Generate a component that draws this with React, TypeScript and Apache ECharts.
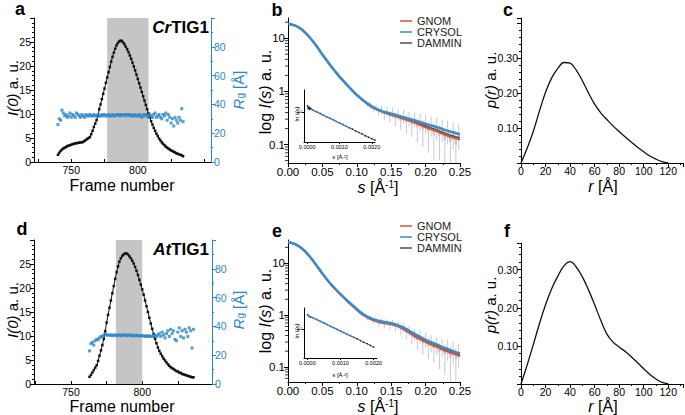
import React, { useEffect, useRef } from "react";
import * as echarts from "echarts";

const FONT = '"Liberation Sans", Arial, Helvetica, sans-serif';

// ---------- Panel a (CrTIG1): frames, I(0), Rg ----------
const A_FIRST_FRAME = 740;
const A_I0 = [
  1.5, 1.9, 2.3, 2.6, 2.8, 3.0, 3.1, 3.3, 3.4, 3.5,
  3.6, 3.7, 3.8, 3.9, 3.9, 4.0, 4.0, 4.1, 4.1, 4.2,
  4.4, 4.6, 4.8, 5.0, 5.2, 5.8, 6.5, 7.3, 8.0, 8.7,
  9.6, 11.0, 12.0, 13.1, 14.2, 15.3, 16.5, 17.6, 18.7, 19.8,
  20.9, 21.9, 22.8, 23.6, 24.3, 24.8, 25.1, 25.3, 25.2, 24.9,
  24.5, 24.0, 23.5, 22.9, 22.2, 21.5, 20.7, 19.9, 19.1, 18.2,
  17.3, 16.4, 15.5, 14.6, 13.7, 12.8, 11.9, 11.0, 10.1, 9.3,
  8.5, 7.8, 7.1, 6.5, 5.9, 5.4, 4.9, 4.5, 4.1, 3.8,
  3.5, 3.2, 3.0, 2.8, 2.6, 2.4, 2.3, 2.1, 2.0, 1.8,
  1.7, 1.6, 1.5, 1.4, 1.2,
];
const A_RG = [
  26, 30, 29, 36, 34, 32, 33, 31, 32, 34,
  31, 33, 32, 31, 34, 33, 32, 31, 33, 32,
  31, 33, 32, 32, 33, 32, 32, 33, 32, 32,
  33, 32, 32, 33, 32, 33, 32, 32, 33, 32,
  32, 33, 32, 32, 33, 33, 32, 33, 32, 33,
  33, 32, 33, 33, 32, 33, 32, 32, 33, 32,
  32, 33, 32, 31, 33, 32, 33, 32, 31, 33,
  32, 31, 33, 34, 31, 32, 33, 31, 30, 33,
  32, 34, 29, 33, 31, 27, 30, 25, 31, 29,
  27, 31, 29, 37, 28,
];
const A_BAND = [777, 808];

// ---------- Panel d (AtTIG1) ----------
const D_FIRST_FRAME = 763;
const D_I0 = [
  1.5, 1.9, 2.4, 2.9, 3.4, 3.9, 4.8, 5.9, 7.0, 8.1,
  9.4, 11.0, 12.8, 14.4, 15.9, 17.4, 18.9, 20.4, 21.9, 23.3,
  24.5, 25.5, 26.2, 26.7, 27.0, 27.2, 27.2, 27.0, 26.6, 26.2,
  25.7, 25.1, 24.4, 23.6, 22.7, 21.7, 20.7, 19.7, 18.6, 17.4,
  16.2, 15.0, 13.8, 12.6, 11.5, 10.4, 9.4, 8.5, 7.6, 6.9,
  6.3, 5.8, 5.3, 4.9, 4.5, 4.1, 3.8, 3.5, 3.3, 3.1,
  2.9, 2.7, 2.6, 2.4, 2.3, 2.1, 2.0, 1.9, 1.8, 1.7,
  1.6, 1.5, 1.4, 1.4,
];
const D_RG = [
  23, 28, 29, 27, 30, 31, 31, 32, 33, 33,
  34, 35, 34, 34, 34, 34, 33.5, 34, 34, 33.5,
  34, 34, 33.5, 34, 34, 34, 33.5, 34, 34, 33.5,
  34, 33.5, 33.5, 34, 33.5, 33.5, 33.5, 33.5, 33.5, 33,
  33.5, 33, 33.5, 33, 33, 33.5, 34, 33, 34, 35,
  33, 36, 34, 32, 35, 37, 33, 38, 35, 37,
  31, 30, 36, 39, 33, 37, 32, 38, 36, 33,
  39, 37, 25, 38,
];
const D_BAND = [781.5, 800];

const FRAME_LABELS = [750, 800];
const FRAME_TICKS = [725, 750, 775, 800, 825, 850];

// ---------- Panels b / e : scattering curves ----------
const S_FIT = [0, 0.01, 0.02, 0.03, 0.04, 0.05, 0.06, 0.07, 0.08, 0.09, 0.1, 0.11, 0.12, 0.13, 0.14, 0.15, 0.16, 0.17, 0.18, 0.19, 0.2, 0.21, 0.22, 0.23, 0.24, 0.25];
const B_GNOM = [18.5, 17.3, 14.5, 10.8, 7.5, 4.9, 3.3, 2.25, 1.6, 1.15, 0.85, 0.66, 0.53, 0.45, 0.4, 0.36, 0.33, 0.3, 0.27, 0.24, 0.21, 0.19, 0.17, 0.15, 0.135, 0.125];
const B_CRYSOL = [18.6, 17.4, 14.6, 10.9, 7.6, 4.95, 3.3, 2.25, 1.6, 1.16, 0.86, 0.67, 0.54, 0.46, 0.41, 0.38, 0.35, 0.32, 0.295, 0.27, 0.245, 0.225, 0.205, 0.185, 0.17, 0.155];
const B_DAMMIN = [18.5, 17.3, 14.5, 10.8, 7.5, 4.9, 3.3, 2.25, 1.6, 1.15, 0.85, 0.66, 0.53, 0.455, 0.405, 0.37, 0.34, 0.31, 0.28, 0.25, 0.225, 0.2, 0.18, 0.16, 0.145, 0.135];
const E_GNOM = [25, 23, 19, 14, 9.5, 6.2, 4.2, 3.0, 2.2, 1.65, 1.25, 0.98, 0.83, 0.74, 0.69, 0.66, 0.6, 0.51, 0.42, 0.35, 0.3, 0.26, 0.23, 0.2, 0.18, 0.16];
const E_CRYSOL = [25.2, 23.2, 19.2, 14.1, 9.6, 6.3, 4.25, 3.05, 2.25, 1.7, 1.3, 1.02, 0.87, 0.78, 0.73, 0.69, 0.63, 0.55, 0.46, 0.39, 0.33, 0.29, 0.255, 0.225, 0.2, 0.18];
const E_DAMMIN = [25, 23, 19, 14, 9.5, 6.2, 4.2, 3.0, 2.2, 1.65, 1.26, 0.99, 0.84, 0.75, 0.7, 0.67, 0.61, 0.52, 0.43, 0.36, 0.31, 0.27, 0.24, 0.21, 0.19, 0.17];

// experimental points: [s, I, error]
const B_EXP = [
  [0.004, 18.9, 1.2], [0.008, 17.4, 0.8], [0.012, 16.9, 0.6], [0.016, 15.9, 0.5], [0.02, 14.6, 0.4],
  [0.024, 13.0, 0.35], [0.028, 11.6, 0.3], [0.032, 10.0, 0.25], [0.036, 8.7, 0.2], [0.04, 7.5, 0.18],
  [0.044, 6.4, 0.15], [0.048, 5.4, 0.13], [0.052, 4.6, 0.11], [0.056, 3.9, 0.1], [0.06, 3.3, 0.09],
  [0.064, 2.8, 0.08], [0.068, 2.42, 0.07], [0.072, 2.1, 0.07], [0.076, 1.82, 0.06], [0.08, 1.6, 0.06],
  [0.084, 1.42, 0.06], [0.088, 1.24, 0.06], [0.092, 1.1, 0.06], [0.096, 0.97, 0.06], [0.1, 0.86, 0.06],
  [0.104, 0.78, 0.06], [0.108, 0.69, 0.06], [0.112, 0.64, 0.06], [0.116, 0.57, 0.06], [0.12, 0.55, 0.07],
  [0.124, 0.47, 0.07], [0.128, 0.49, 0.07], [0.132, 0.42, 0.07], [0.136, 0.45, 0.08], [0.14, 0.37, 0.08],
  [0.144, 0.43, 0.08], [0.148, 0.34, 0.08], [0.152, 0.4, 0.09], [0.156, 0.31, 0.09], [0.16, 0.37, 0.09],
  [0.164, 0.28, 0.09], [0.168, 0.35, 0.1], [0.172, 0.26, 0.1], [0.176, 0.32, 0.1], [0.18, 0.24, 0.1],
  [0.184, 0.31, 0.1], [0.188, 0.21, 0.1], [0.192, 0.28, 0.1], [0.196, 0.19, 0.1], [0.2, 0.26, 0.1],
  [0.204, 0.17, 0.1], [0.208, 0.24, 0.1], [0.212, 0.15, 0.1], [0.216, 0.22, 0.1], [0.22, 0.14, 0.09],
  [0.224, 0.2, 0.09], [0.228, 0.12, 0.09], [0.232, 0.19, 0.09], [0.236, 0.11, 0.08], [0.24, 0.17, 0.09],
  [0.244, 0.1, 0.07], [0.248, 0.16, 0.08],
];
const E_EXP = [
  [0.004, 25.5, 1.5], [0.008, 24.0, 1.0], [0.012, 22.4, 0.8], [0.016, 20.8, 0.6], [0.02, 19.0, 0.5],
  [0.024, 17.0, 0.45], [0.028, 15.0, 0.4], [0.032, 13.0, 0.35], [0.036, 11.2, 0.3], [0.04, 9.5, 0.25],
  [0.044, 8.1, 0.2], [0.048, 6.8, 0.18], [0.052, 5.8, 0.15], [0.056, 4.9, 0.13], [0.06, 4.2, 0.12],
  [0.064, 3.7, 0.1], [0.068, 3.2, 0.09], [0.072, 2.8, 0.08], [0.076, 2.45, 0.08], [0.08, 2.2, 0.07],
  [0.084, 1.95, 0.07], [0.088, 1.72, 0.07], [0.092, 1.55, 0.07], [0.096, 1.4, 0.07], [0.1, 1.25, 0.07],
  [0.104, 1.14, 0.07], [0.108, 1.02, 0.07], [0.112, 0.96, 0.07], [0.116, 0.86, 0.08], [0.12, 0.85, 0.08],
  [0.124, 0.76, 0.08], [0.128, 0.79, 0.08], [0.132, 0.7, 0.09], [0.136, 0.76, 0.09], [0.14, 0.65, 0.09],
  [0.144, 0.72, 0.1], [0.148, 0.62, 0.1], [0.152, 0.7, 0.1], [0.156, 0.58, 0.1], [0.16, 0.64, 0.11],
  [0.164, 0.52, 0.11], [0.168, 0.58, 0.11], [0.172, 0.45, 0.11], [0.176, 0.5, 0.11], [0.18, 0.38, 0.11],
  [0.184, 0.43, 0.11], [0.188, 0.32, 0.11], [0.192, 0.39, 0.11], [0.196, 0.28, 0.11], [0.2, 0.34, 0.11],
  [0.204, 0.25, 0.11], [0.208, 0.3, 0.11], [0.212, 0.22, 0.1], [0.216, 0.27, 0.1], [0.22, 0.19, 0.1],
  [0.224, 0.25, 0.1], [0.228, 0.17, 0.1], [0.232, 0.23, 0.1], [0.236, 0.15, 0.1], [0.24, 0.21, 0.1],
  [0.244, 0.14, 0.09], [0.248, 0.19, 0.09],
];
const LOG_MINOR = [0.05, 0.06, 0.07, 0.08, 0.09, 0.2, 0.3, 0.4, 0.5, 0.6, 0.7, 0.8, 0.9, 2, 3, 4, 5, 6, 7, 8, 9, 20];
const LEGEND_NAMES = ["GNOM", "CRYSOL", "DAMMIN"];

// ---------- Guinier insets: [s^2, ln I] ----------
const B_GUINIER = [
  [0.00001, 1.22], [0.00003, 1.12], [0.00005, 1.18], [0.00007, 1.1], [0.00009, 1.15], [0.00012, 1.11],
  [0.00015, 1.09], [0.0002, 1.06], [0.0003, 1.01], [0.0004, 0.96], [0.0005, 0.9], [0.0006, 0.85],
  [0.0007, 0.8], [0.0008, 0.75], [0.0009, 0.69], [0.001, 0.64], [0.0011, 0.59], [0.0012, 0.53],
  [0.0013, 0.48], [0.0014, 0.43], [0.0015, 0.37], [0.0016, 0.32], [0.0017, 0.27], [0.0018, 0.21],
  [0.0019, 0.16], [0.002, 0.11], [0.0021, 0.06],
];
const B_GUINIER_FIT = [[0.0001, 1.11], [0.0013, 0.48]];
const E_GUINIER = [
  [0.00001, 1.52], [0.00004, 1.47], [0.00007, 1.45], [0.0001, 1.43], [0.0002, 1.39], [0.0003, 1.34],
  [0.0004, 1.28], [0.0005, 1.23], [0.0006, 1.17], [0.0007, 1.11], [0.0008, 1.06], [0.0009, 1.0],
  [0.001, 0.95], [0.0011, 0.89], [0.0012, 0.83], [0.0013, 0.78], [0.0014, 0.72], [0.0015, 0.67],
  [0.0016, 0.61], [0.0017, 0.55], [0.0018, 0.5], [0.0019, 0.44], [0.002, 0.38],
];
const E_GUINIER_FIT = [[0.0, 1.5], [0.0014, 0.72]];
const GUINIER_X_LABELS = [0, 0.001, 0.002];

// ---------- Panels c / f : p(r) ----------
const R_VALUES = [0, 5, 10, 15, 20, 25, 30, 35, 40, 45, 50, 55, 60, 65, 70, 75, 80, 85, 90, 95, 100, 105, 110, 115, 120];
const C_PR = [0, 0.042, 0.09, 0.148, 0.202, 0.243, 0.27, 0.287, 0.285, 0.265, 0.235, 0.2, 0.168, 0.143, 0.124, 0.106, 0.09, 0.074, 0.059, 0.045, 0.032, 0.02, 0.011, 0.004, 0];
const F_PR = [0, 0.05, 0.103, 0.158, 0.208, 0.25, 0.283, 0.31, 0.321, 0.307, 0.281, 0.247, 0.208, 0.167, 0.131, 0.11, 0.097, 0.085, 0.071, 0.056, 0.04, 0.025, 0.013, 0.004, 0];

// colours
const BLACK = "#111111";
const BLUE_PT = "#2a86c8";
const RED = "#d4563a";
const BLUE_LINE = "#3a8cc6";
const DARK = "#4d4d4d";
const GREY_EXP = "#bdbdbd";
const BAND = "#c5c5c5";

function axis(o: any) {
  const color = o.color || "#000";
  const tick: any = { show: true, inside: !!o.tickInside, length: o.tickLen ?? 4, lineStyle: { color, width: 1 } };
  if (o.tickValues) tick.customValues = o.tickValues;
  const label: any = { color, fontSize: o.fs, fontFamily: FONT, margin: o.margin ?? 3 };
  if (o.fmt) label.formatter = o.fmt;
  if (o.showMin === false) label.showMinLabel = false;
  if (o.showMax === false) label.showMaxLabel = false;
  if (o.labelValues) label.customValues = o.labelValues;
  const a: any = {
    type: o.type || "value",
    gridIndex: o.grid,
    min: o.min,
    max: o.max,
    axisLine: { show: true, onZero: false, lineStyle: { color, width: 1 } },
    axisTick: tick,
    minorTick: o.minor ? { show: true, splitNumber: o.minor, length: 2, lineStyle: { color, width: 1 } } : { show: false },
    splitLine: { show: false },
    minorSplitLine: { show: false },
    axisLabel: label,
  };
  if (o.interval !== undefined) a.interval = o.interval;
  if (o.position) a.position = o.position;
  if (o.type === "log") a.logBase = 10;
  return a;
}

function rich(size: number, color = "#000") {
  return {
    n: { fontSize: size, fontFamily: FONT, fill: color },
    i: { fontSize: size, fontFamily: FONT, fontStyle: "italic", fill: color },
    b: { fontSize: size, fontFamily: FONT, fontWeight: "bold", fill: color },
    bi: { fontSize: size, fontFamily: FONT, fontWeight: "bold", fontStyle: "italic", fill: color },
    sub: { fontSize: Math.round(size * 0.65), fontFamily: FONT, fill: color, verticalAlign: "bottom" },
    sup: { fontSize: Math.round(size * 0.62), fontFamily: FONT, fill: color, verticalAlign: "top" },
  };
}

function text(x: number, y: number, t: string, size: number, opts: any = {}) {
  return {
    type: "text",
    x,
    y,
    rotation: opts.rot ? Math.PI / 2 : 0,
    silent: true,
    style: {
      text: t,
      rich: rich(size, opts.color || "#000"),
      fill: opts.color || "#000",
      fontSize: size,
      fontFamily: FONT,
      align: opts.align || "center",
      verticalAlign: "middle",
    },
  };
}

function buildOption() {
  const aFrames = A_I0.map((_, i) => A_FIRST_FRAME + i);
  const dFrames = D_I0.map((_, i) => D_FIRST_FRAME + i);

  const grid = [
    { left: 34, top: 18, width: 177, height: 144 }, // a
    { left: 288, top: 18, width: 172, height: 145 }, // b
    { left: 521, top: 18, width: 162, height: 145 }, // c
    { left: 34, top: 240, width: 178, height: 144 }, // d
    { left: 288, top: 240, width: 172, height: 142 }, // e
    { left: 521, top: 243, width: 162, height: 141 }, // f
    { left: 304, top: 90, width: 71, height: 52 }, // b inset
    { left: 304, top: 308, width: 73, height: 50 }, // e inset
  ];

  const frameX = (g: number, min: number, max: number) =>
    axis({ grid: g, min, max, fs: 10.5, tickValues: FRAME_TICKS, labelValues: FRAME_LABELS, tickInside: true, tickLen: 3, margin: 2 });
  const sX = (g: number) =>
    axis({ grid: g, min: 0, max: 0.25, interval: 0.05, fs: 11.5, minor: 2, fmt: (v: number) => v.toFixed(2), margin: 3 });
  const rX = (g: number) =>
    axis({ grid: g, min: 0, max: 132, interval: 20, fs: 10.5, minor: 2, showMax: false, margin: 2 });
  const gX = (g: number) =>
    axis({ grid: g, min: -0.0001, max: 0.0021, fs: 5.5, tickValues: GUINIER_X_LABELS, labelValues: GUINIER_X_LABELS, fmt: (v: number) => v.toFixed(4), tickLen: 2, margin: 2 });

  const xAxis = [frameX(0, 722, 855), sX(1), rX(2), frameX(3, 724, 849), sX(4), rX(5), gX(6), gX(7)];

  const i0Y = (g: number) => axis({ grid: g, min: 0, max: 30, interval: 5, fs: 10.5, minor: 5, showMax: false });
  const rgY = (g: number) =>
    axis({ grid: g, min: 0, max: 100, interval: 20, fs: 10.5, minor: 2, showMax: false, position: "right", color: BLUE_PT });
  const logY = (g: number, min: number, max: number) =>
    axis({ grid: g, type: "log", min, max, fs: 11.5, showMin: false, showMax: false });
  const prY = (g: number, max: number) =>
    axis({
      grid: g, min: 0, max, interval: 0.1, fs: 10.5, minor: 5,
      fmt: (v: number) => (v > 0.05 && v < 0.35 ? v.toFixed(2) : ""),
    });
  const gY = (g: number) =>
    axis({ grid: g, min: 0, max: 1.75, fs: 5.5, tickValues: [1], labelValues: [1], fmt: () => "e\u00b9", tickLen: 2, margin: 2 });

  const yAxis = [
    i0Y(0), rgY(0), // 0,1  a
    logY(1, 0.045, 24), // 2 b
    prY(2, 0.414), // 3 c
    i0Y(3), rgY(3), // 4,5 d
    logY(4, 0.051, 27.7), // 6 e
    prY(5, 0.37), // 7 f
    gY(6), // 8 b inset
    gY(7), // 9 e inset
  ];

  const series: any[] = [];

  const secPanel = (xi: number, yiL: number, yiR: number, frames: number[], i0: number[], rg: number[], band: number[]) => {
    series.push({
      type: "line",
      name: "I(0)",
      xAxisIndex: xi,
      yAxisIndex: yiL,
      data: frames.map((f, i) => [f, i0[i]]),
      symbol: "rect",
      symbolSize: 2.5,
      showSymbol: true,
      lineStyle: { color: BLACK, width: 1 },
      itemStyle: { color: BLACK },
      z: 3,
      markArea: {
        silent: true,
        itemStyle: { color: BAND },
        data: [[{ xAxis: band[0] }, { xAxis: band[1] }]],
      },
    });
    series.push({
      type: "scatter",
      name: "Rg",
      xAxisIndex: xi,
      yAxisIndex: yiR,
      data: frames.map((f, i) => [f, rg[i]]),
      symbol: "rect",
      symbolSize: 3,
      itemStyle: { color: BLUE_PT },
      z: 4,
    });
  };
  secPanel(0, 0, 1, aFrames, A_I0, A_RG, A_BAND);
  secPanel(3, 4, 5, dFrames, D_I0, D_RG, D_BAND);

  const curvePanel = (xi: number, yi: number, exp: number[][], gnom: number[], crysol: number[], dammin: number[], ymin: number, ymax: number) => {
    series.push({
      type: "custom",
      name: "err",
      xAxisIndex: xi,
      yAxisIndex: yi,
      clip: true,
      silent: true,
      data: exp.map((p) => [p[0], p[1] - p[2], p[1] + p[2]]),
      encode: { x: 0, y: [1, 2] },
      renderItem: (_p: any, api: any) => {
        const s = api.value(0);
        const a = api.coord([s, api.value(1)]);
        const b = api.coord([s, api.value(2)]);
        return {
          type: "line",
          shape: { x1: a[0], y1: a[1], x2: b[0], y2: b[1] },
          style: { stroke: "#c8c8c8", lineWidth: 1 },
        };
      },
      z: 1,
    });
    series.push({
      type: "line",
      name: "exp",
      xAxisIndex: xi,
      yAxisIndex: yi,
      data: exp.map((p) => [p[0], p[1]]),
      symbol: "none",
      lineStyle: { color: GREY_EXP, width: 1 },
      itemStyle: { color: GREY_EXP },
      z: 2,
    });
    const fit = (name: string, vals: number[], color: string, width: number, z: number) =>
      series.push({
        type: "line",
        name,
        xAxisIndex: xi,
        yAxisIndex: yi,
        data: S_FIT.map((s, i) => [s, vals[i]]),
        smooth: true,
        symbol: "none",
        lineStyle: { color, width },
        itemStyle: { color },
        z,
      });
    fit("DAMMIN", dammin, DARK, 1.5, 3);
    fit("GNOM", gnom, RED, 2, 4);
    fit("CRYSOL", crysol, BLUE_LINE, 2.5, 5);
    series.push({
      type: "scatter",
      name: "minor",
      xAxisIndex: xi,
      yAxisIndex: yi,
      silent: true,
      clip: false,
      data: LOG_MINOR.filter((v) => v > ymin && v < ymax).map((v) => [0, v]),
      symbol: "rect",
      symbolSize: [3, 1],
      symbolOffset: [-1.5, 0],
      itemStyle: { color: "#000" },
      z: 6,
    });
  };
  curvePanel(1, 2, B_EXP, B_GNOM, B_CRYSOL, B_DAMMIN, 0.045, 24);
  curvePanel(4, 6, E_EXP, E_GNOM, E_CRYSOL, E_DAMMIN, 0.051, 27.7);

  const prPanel = (xi: number, yi: number, vals: number[]) =>
    series.push({
      type: "line",
      name: "p(r)",
      xAxisIndex: xi,
      yAxisIndex: yi,
      data: R_VALUES.map((r, i) => [r, vals[i]]),
      smooth: 0.4,
      symbol: "none",
      lineStyle: { color: BLACK, width: 1.3 },
    });
  prPanel(2, 3, C_PR);
  prPanel(5, 7, F_PR);

  const insetPanel = (xi: number, yi: number, pts: number[][], fitPts: number[][]) => {
    series.push({
      type: "line",
      name: "guinier",
      xAxisIndex: xi,
      yAxisIndex: yi,
      data: pts,
      symbol: "circle",
      symbolSize: 1.5,
      lineStyle: { color: "#222", width: 0.8 },
      itemStyle: { color: "#222" },
      z: 3,
    });
    series.push({
      type: "line",
      name: "guinier fit",
      xAxisIndex: xi,
      yAxisIndex: yi,
      data: fitPts,
      symbol: "none",
      lineStyle: { color: BLUE_LINE, width: 1.2 },
      z: 4,
    });
  };
  insetPanel(6, 8, B_GUINIER, B_GUINIER_FIT);
  insetPanel(7, 9, E_GUINIER, E_GUINIER_FIT);

  const legendBase = {
    data: LEGEND_NAMES,
    orient: "vertical",
    left: 400,
    padding: 0,
    itemGap: 0,
    itemWidth: 12,
    itemHeight: 1.5,
    icon: "rect",
    selectedMode: false,
    textStyle: { fontSize: 11, fontFamily: FONT, color: "#222", lineHeight: 11 },
  };
  const legend = [
    { ...legendBase, top: 15.5 },
    { ...legendBase, top: 220.5 },
  ];

  const graphic = [
    text(20, 9, "{b|a}", 18),
    text(277, 10, "{b|b}", 18),
    text(508, 10, "{b|c}", 18),
    text(22, 229, "{b|d}", 18),
    text(277, 231, "{b|e}", 18),
    text(507, 231, "{b|f}", 18),
    text(209, 27, "{bi|Cr}{b|TIG1}", 17, { align: "right" }),
    text(209, 249, "{bi|At}{b|TIG1}", 17, { align: "right" }),
    // panel a
    text(12, 88, "{i|I(0)}{n| a. u.}", 15, { rot: true }),
    text(238, 90, "{i|R}{sub|g}{n| [Å]}", 15, { rot: true, color: BLUE_PT }),
    text(122, 185, "{n|Frame number}", 16),
    // panel d
    text(12, 310, "{i|I(0)}{n| a. u.}", 15, { rot: true }),
    text(238, 310, "{i|R}{sub|g}{n| [Å]}", 15, { rot: true, color: BLUE_PT }),
    text(122, 406, "{n|Frame number}", 16),
    // panel b / e
    text(265, 92, "{n|log }{i|I(s)}{n| a. u.}", 16, { rot: true }),
    text(378, 187, "{i|s}{n| [Å}{sup|-1}{n|]}", 16),
    text(265, 311, "{n|log }{i|I(s)}{n| a. u.}", 16, { rot: true }),
    text(378, 406, "{i|s}{n| [Å}{sup|-1}{n|]}", 16),
    // panel c / f
    text(490, 80, "{i|p(r)}{n| a. u.}", 15, { rot: true }),
    text(603, 186, "{i|r}{n| [Å]}", 16),
    text(490, 305, "{i|p(r)}{n| a. u.}", 15, { rot: true }),
    text(603, 406, "{i|r}{n| [Å]}", 16),
    // insets
    text(297, 114, "{n|ln }{i|I(s)}", 6, { rot: true }),
    text(340, 157, "{i|s}{n| [Å}{sup|-2}{n|]}", 6),
    text(297, 331, "{n|ln }{i|I(s)}", 6, { rot: true }),
    text(340, 375, "{i|s}{n| [Å}{sup|-2}{n|]}", 6),
  ];

  return {
    animation: false,
    backgroundColor: "#ffffff",
    textStyle: { fontFamily: FONT },
    grid,
    xAxis,
    yAxis,
    legend,
    series,
    graphic,
  };
}

export default function App() {
  const ref = useRef<HTMLDivElement>(null);
  useEffect(() => {
    if (!ref.current) return;
    const chart = echarts.init(ref.current, null, { renderer: "svg" });
    chart.setOption(buildOption() as any);
    return () => chart.dispose();
  }, []);
  return (
    <div
      ref={ref}
      style={{ position: "absolute", left: 0, top: 0, width: 685, height: 415, background: "#fff" }}
    />
  );
}
